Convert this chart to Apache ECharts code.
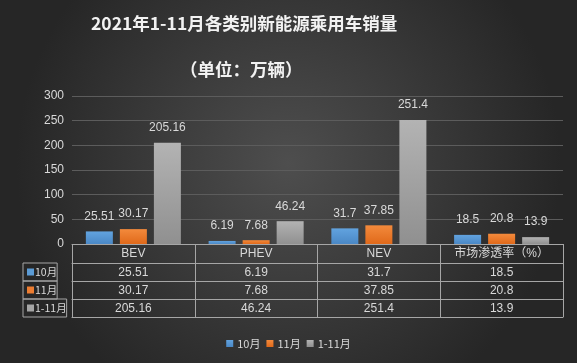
<!DOCTYPE html>
<html><head><meta charset="utf-8">
<script src="https://cdn.jsdelivr.net/npm/echarts/dist/echarts.min.js"></script>
<style>html,body{margin:0;padding:0;background:#333}#c{width:577px;height:363px}</style>
</head><body><div id="c"></div>
<script>
const titleText = '2021年1-11月各类别新能源乘用车销量';
const subTitleText = '（单位：万辆）';
const categories = ['BEV', 'PHEV', 'NEV', '市场渗透率（%）'];
const seriesNames = ['10月', '11月', '1-11月'];
const octValues = [25.51, 6.19, 31.7, 18.5];
const novValues = [30.17, 7.68, 37.85, 20.8];
const ytdValues = [205.16, 46.24, 251.4, 13.9];
const yMin = 0, yMax = 300, yInterval = 50;

const FONT = '"Liberation Sans", "Noto Sans CJK SC", sans-serif';
const CJK = '"Noto Sans CJK SC", sans-serif';
const TXT = '#d9d9d9';
const LINE = '#a6a6a6';
const colors = [
  ['#62a3df', '#4a88c6'],
  ['#f38a3c', '#e0691a'],
  ['#b3b3b3', '#909090']
];
const solid = ['#5b9bd5', '#ed7d31', '#a5a5a5'];
const allValues = [octValues, novValues, ytdValues];

function grad(c) {
  return { type: 'linear', x: 0, y: 0, x2: 0, y2: 1,
    colorStops: [{ offset: 0, color: c[0] }, { offset: 1, color: c[1] }] };
}

const rowOffsets = [19, 37, 55];
const tableAxes = seriesNames.map((name, k) => ({
  type: 'category', gridIndex: 0, position: 'bottom', offset: rowOffsets[k],
  data: categories,
  axisLine: { show: true, lineStyle: { color: LINE, width: 1 } },
  axisTick: { show: true, length: 18, interval: 0, lineStyle: { color: LINE } },
  axisLabel: { interval: 0, margin: 4, color: TXT, fontSize: 12, fontFamily: FONT,
    formatter: (v, i) => String(allValues[k][i]) },
  name: '{sq|}{t|' + name + '}',
  nameLocation: 'start', nameGap: 49,
  nameTextStyle: {
    align: 'left', verticalAlign: 'top',
    width: 45, height: 18, lineHeight: 18, padding: [0, 0, 0, 4],
    borderColor: LINE, borderWidth: 1,
    rich: {
      sq: { width: 7, height: 7, backgroundColor: solid[k] },
      t: { color: TXT, fontSize: 10.5, fontFamily: CJK, padding: [0, 0, 0, 1], lineHeight: 18 }
    }
  }
}));

const option = {
  animation: false,
  backgroundColor: { type: 'radial', x: 0.5, y: 0.45, r: 0.75,
    colorStops: [{ offset: 0, color: '#4e4e4e' }, { offset: 1, color: '#262626' }] },
  title: [
    { text: titleText, left: 86, top: 10,
      textStyle: { color: '#f2f2f2', fontSize: 17.5, fontWeight: 'bold', fontFamily: CJK } },
    { text: subTitleText, left: 175, top: 56,
      textStyle: { color: '#f2f2f2', fontSize: 17.5, fontWeight: 'bold', fontFamily: CJK } }
  ],
  legend: {
    data: seriesNames, bottom: 9, left: 'center', itemWidth: 7, itemHeight: 7, itemGap: 6,
    icon: 'rect',
    textStyle: { color: TXT, fontSize: 11, fontFamily: CJK, padding: [0, 0, 0, -1] }
  },
  grid: { left: 72, right: 14, top: 96, bottom: 119, outerBoundsMode: 'none', containLabel: false },
  xAxis: [
    { type: 'category', gridIndex: 0, position: 'bottom', data: categories,
      axisLine: { show: true, lineStyle: { color: LINE, width: 1 } },
      axisTick: { show: true, length: 19, interval: 0, lineStyle: { color: LINE } },
      axisLabel: { interval: 0, margin: 4, color: TXT, fontSize: 12, fontFamily: FONT } },
    ...tableAxes,
    { type: 'category', gridIndex: 0, position: 'bottom', offset: 73, data: categories,
      axisLine: { show: true, lineStyle: { color: LINE, width: 1 } },
      axisTick: { show: false }, axisLabel: { show: false } }
  ],
  yAxis: {
    type: 'value', min: yMin, max: yMax, interval: yInterval,
    axisLine: { show: false }, axisTick: { show: false },
    axisLabel: { color: TXT, fontSize: 12, fontFamily: FONT, margin: 8 },
    splitLine: { lineStyle: { color: '#5c5c5c', width: 1 } }
  },
  series: seriesNames.map((name, k) => ({
    name, type: 'bar', xAxisIndex: 0, data: allValues[k],
    barWidth: 27, barGap: '26%',
    itemStyle: { color: grad(colors[k]) },
    label: { show: true, position: 'top', distance: 9, color: TXT, fontSize: 12, fontFamily: FONT }
  }))
};
option.color = solid;
const chart = echarts.init(document.getElementById('c'));
chart.setOption(option);
</script>
</body></html>
